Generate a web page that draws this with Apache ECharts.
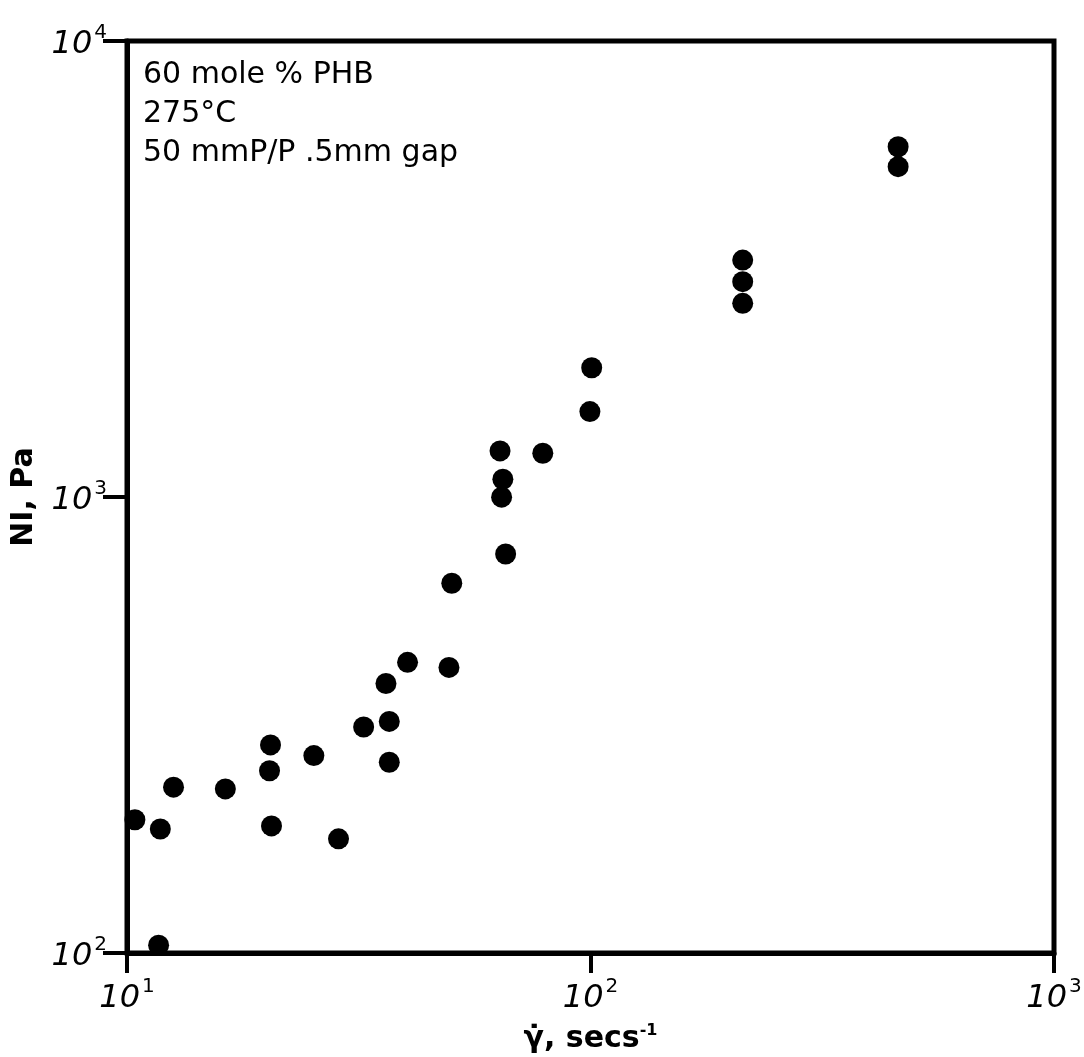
<!DOCTYPE html>
<html>
<head>
<meta charset="utf-8">
<script src="https://cdn.jsdelivr.net/npm/echarts@6/dist/echarts.min.js"></script>
<style>
html,body{margin:0;padding:0;background:#fff;}
#chart{width:1084px;height:1057px;}
</style>
</head>
<body>
<div id="chart"></div>
<script>
// Shear rate (1/s) and first normal stress difference (Pa)
const shearRate = [10.4, 11.8, 12.6, 16.3, 20.4, 20.3, 20.5, 25.3, 28.6, 36.2, 40.3, 49.5, 32.4, 36.8, 36.8, 11.7,
                   100.6, 99.7, 63.8, 78.9, 64.7, 64.3, 65.6, 50.2, 213, 213, 213, 461, 461];
const normalStress = [196, 187, 231, 229, 286, 251, 190, 271, 178, 390, 434, 423, 313, 322, 262, 104,
                      1921, 1539, 1262, 1247, 1094, 999, 750, 647, 3308, 2966, 2659, 5864, 5302];
const xTickValues = [10, 100, 1000];
const xTickExponents = ['1', '2', '3'];
const yTickValues = [100, 1000, 10000];
const yTickExponents = ['2', '3', '4'];
const annotationLines = ['60 mole % PHB', '275°C', '50 mmP/P .5mm gap'];

const points = shearRate.map((x, i) => [x, normalStress[i]]);

function expLabel(values, exps) {
  return function (v) {
    let idx = values.findIndex(t => Math.abs(Math.log10(t) - Math.log10(v)) < 1e-6);
    if (idx < 0) return '';
    return '{b|10}{s|' + exps[idx] + '}';
  };
}

const FONT = 'DejaVu Sans';
const richTick = {
  b: {fontFamily: FONT, fontSize: 32, fontStyle: 'italic', color: '#000', lineHeight: 36, padding: [8, 2, 0, 0]},
  s: {fontFamily: FONT, fontSize: 20, color: '#000', verticalAlign: 'top', lineHeight: 36}
};

const chart = echarts.init(document.getElementById('chart'));
chart.setOption({
  animation: false,
  backgroundColor: '#fff',
  grid: {left: 127, top: 41, right: 30, bottom: 104, outerBoundsMode: 'none', containLabel: false,
         show: true, borderColor: '#000', borderWidth: 5, backgroundColor: 'transparent'},
  xAxis: {
    type: 'log', logBase: 10, min: 10, max: 1000,
    name: '{g|γ̇, secs}{s|-1}', nameLocation: 'middle', nameGap: 70,
    nameTextStyle: {rich: {
      g: {fontFamily: FONT, fontSize: 30, fontWeight: 'bold', color: '#000', lineHeight: 32},
      s: {fontFamily: FONT, fontSize: 16, fontWeight: 'bold', color: '#000', verticalAlign: 'top', lineHeight: 32}
    }},
    axisLine: {show: true, lineStyle: {color: '#000', width: 5}},
    axisTick: {show: true, inside: false, length: 20, lineStyle: {color: '#000', width: 4}},
    minorTick: {show: false},
    splitLine: {show: false},
    axisLabel: {margin: 24, formatter: expLabel(xTickValues, xTickExponents), rich: richTick}
  },
  yAxis: {
    type: 'log', logBase: 10, min: 100, max: 10000,
    name: 'NI, Pa', nameLocation: 'middle', nameGap: 88, nameRotate: 90,
    nameTextStyle: {fontFamily: FONT, fontSize: 30, fontWeight: 'bold', color: '#000'},
    axisLine: {show: true, lineStyle: {color: '#000', width: 5}},
    axisTick: {show: true, inside: false, length: 24, lineStyle: {color: '#000', width: 4}},
    minorTick: {show: false},
    splitLine: {show: false},
    axisLabel: {margin: 20, formatter: expLabel(yTickValues, yTickExponents), rich: richTick}
  },
  graphic: [{
    type: 'text', left: 143, top: 56, z: 10,
    style: {
      text: annotationLines.join('\n'),
      fontFamily: FONT, fontSize: 30, lineHeight: 39, fill: '#000'
    }
  }],
  series: [{
    type: 'scatter',
    data: points,
    symbol: 'circle', symbolSize: 21,
    itemStyle: {color: '#000', opacity: 1},
    clip: false
  }]
});
</script>
</body>
</html>
